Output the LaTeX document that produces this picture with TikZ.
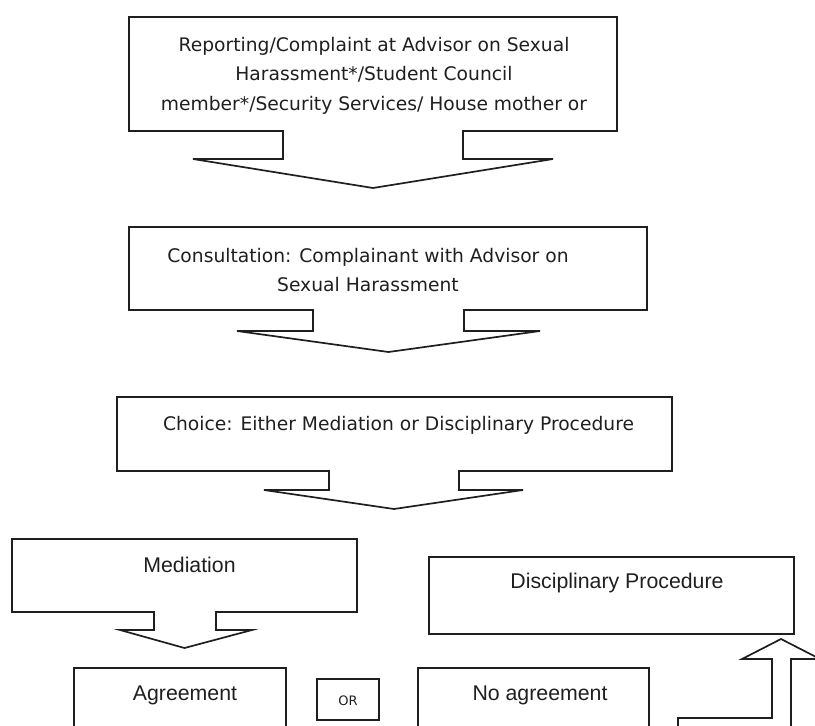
\documentclass[tikz,border=0pt]{standalone}
\usepackage{fontspec}
\setmainfont{DejaVu Sans}
\newfontfamily\arialfont{Liberation Sans}
\begin{document}
\begin{tikzpicture}[x=1pt, y=-1pt, line width=1.7pt, line join=miter, color=black!88,
  boxtext/.style={inner sep=0pt, align=center, anchor=north, font=\fontsize{18.7}{29.5}\selectfont},
  armtext/.style={inner sep=0pt, anchor=base, font=\arialfont\fontsize{21.3}{26}\selectfont}]
\useasboundingbox (0,0) rectangle (815,726);
\clip (0,0) rectangle (815,726);
% callout boxes: box, neck, wings, tip
\foreach \l/\t/\r/\b/\nl/\nr/\wl/\wr/\wy/\tx/\ty in {129/17/617/131/283/463/193/553/159/373/188,
  129/227/647/310/313/464/237/540/331/388.5/352, 117/397/672/471/329/459/264/523/490/394/509,
  12/539/357/612/154/216/120/252/630/184.5/648}
\draw (\l,\t) -- (\r,\t) -- (\r,\b) -- (\nr,\b) -- (\nr,\wy) -- (\wr,\wy) -- (\tx,\ty)
  -- (\wl,\wy) -- (\nl,\wy) -- (\nl,\b) -- (\l,\b) -- cycle;
\draw (429,557) rectangle (794,634);
\draw (74,668) rectangle (286,740);
\draw (317,679) rectangle (379,720);
\draw (418,668) rectangle (649,740);
% bent arrow up to the disciplinary procedure
\draw (678,737) -- (678,718) -- (772,718) -- (772,659) -- (742,659) -- (781,639) -- (820,659)
  -- (791,659) -- (791,737) -- cycle;
\node[boxtext] (report) at (374,36) {Reporting/Complaint at Advisor on Sexual\\
  Harassment*/Student Council\\member*/Security Services/ House mother or};
\node[boxtext] (consult) at (368,247) {Consultation: Complainant with Advisor on\\Sexual Harassment};
\node[boxtext] (choice) at (398.5,415) {Choice: Either Mediation or Disciplinary Procedure};
\node[armtext] (mediation) at (189.5,572) {Mediation};
\node[armtext] (disc) at (617,588) {Disciplinary Procedure};
\node[armtext] (agree) at (185,700) {Agreement};
\node[armtext] (noagree) at (540,700) {No agreement};
\node[inner sep=0pt, anchor=base, font=\fontsize{13}{15}\selectfont] (or) at (348,705) {OR};
\end{tikzpicture}
\end{document}
